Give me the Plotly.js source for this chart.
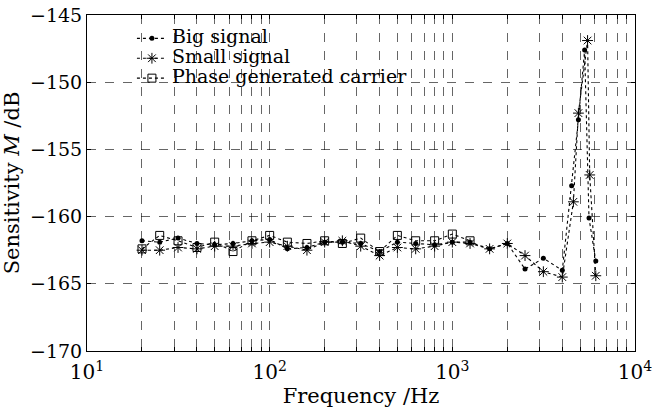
<!DOCTYPE html>
<html>
<head>
<meta charset="utf-8">
<script src="https://cdn.plot.ly/plotly-3.0.1.min.js"></script>
<style>html,body{margin:0;padding:0;background:#fff;}#chart{width:652px;height:408px;}</style>
</head>
<body>
<div id="chart"></div>
<script>
// 1/3-octave band frequencies (Hz)
const freqPGC = [20,25,31.5,40,50,63,80,100,125,160,200,250,315,400,500,630,800,1000,1250];
const pgcValues = [-162.4,-161.4,-161.8,-162.3,-161.9,-162.6,-161.8,-161.4,-161.9,-162.0,-161.8,-162.0,-161.6,-162.6,-161.4,-161.8,-161.8,-161.3,-161.8];

const freqBig = [20,25,31.5,40,50,63,80,100,125,160,200,250,315,400,500,630,800,1000,1250,1600,2000,2500,3150,4000,4500,4900,5300,5600,6100];
const bigValues = [-161.8,-161.9,-161.6,-162.0,-162.1,-162.0,-161.8,-161.7,-162.4,-162.3,-161.9,-161.9,-162.0,-162.6,-161.9,-162.0,-162.1,-161.9,-161.9,-162.4,-162.0,-163.9,-163.1,-164.0,-157.7,-152.8,-147.6,-160.1,-163.3];

const freqSmall = [20,25,31.5,40,50,63,80,100,125,160,200,250,315,400,500,630,800,1000,1250,1600,2000,2500,3150,4000,4600,4900,5500,5650,6100];
const smallValues = [-162.5,-162.5,-162.3,-162.4,-162.2,-162.2,-162.0,-161.9,-162.2,-162.5,-161.9,-161.8,-162.2,-162.9,-162.3,-162.4,-162.2,-161.9,-162.0,-162.4,-162.0,-162.9,-164.1,-164.5,-158.9,-152.3,-146.9,-156.9,-164.4];

const seriesNames = ["Big signal","Small signal","Phase generated carrier"];
const yTicks = [-170,-165,-160,-155,-150,-145];
const decades = [10,100,1000,10000];
const decadeLabels = ["10<sup>1</sup>","10<sup>2</sup>","10<sup>3</sup>","10<sup>4</sup>"];

// grid positions at every 1..9 x decade
const xTickVals = [], xTickText = [];
for (let d = 0; d < 3; d++) {
  for (let m = 1; m <= 9; m++) {
    xTickVals.push(decades[d] * m);
    xTickText.push(m === 1 ? decadeLabels[d] : "");
  }
}
xTickVals.push(decades[3]); xTickText.push(decadeLabels[3]);

const font = "DejaVu Serif, serif";
const lineStyle = {color:"black", width:1.1, dash:"dot"};
const legendName = s => '<span style="font-size:19px">' + s + '</span>';

const traces = [
  {x:freqBig, y:bigValues, name:legendName(seriesNames[0]), mode:"lines+markers", type:"scatter",
   line:lineStyle, marker:{symbol:"circle", size:5, color:"black"}},
  {x:freqSmall, y:smallValues, name:legendName(seriesNames[1]), mode:"lines+markers", type:"scatter",
   line:lineStyle, marker:{symbol:"asterisk-open", size:9, color:"black", line:{color:"black", width:1}}},
  {x:freqPGC, y:pgcValues, name:legendName(seriesNames[2]), mode:"lines+markers", type:"scatter",
   line:lineStyle, marker:{symbol:"square-open", size:8, color:"black", line:{color:"black", width:1}}}
];

const layout = {
  width:652, height:408,
  margin:{l:87, r:17, t:15, b:57},
  paper_bgcolor:"white", plot_bgcolor:"white",
  font:{family:font, size:20, color:"black"},
  showlegend:true,
  legend:{x:0.082, y:0.975, xanchor:"left", yanchor:"top", bgcolor:"rgba(255,255,255,0)",
          font:{family:font, size:13}, tracegroupgap:0, itemwidth:30},
  xaxis:{type:"log", range:[1,4], tickmode:"array", tickvals:xTickVals, ticktext:xTickText,
         ticklabeloverflow:"allow", ticklabelstandoff:3,
         showgrid:true, gridcolor:"black", griddash:"dash", gridwidth:0.6,
         showline:true, linecolor:"black", linewidth:1, mirror:"ticks",
         ticks:"inside", ticklen:4, tickcolor:"black", zeroline:false,
         tickfont:{family:font, size:20},
         title:{text:"Frequency /Hz", font:{family:font, size:21}, standoff:0}},
  yaxis:{range:[-170,-145], tickmode:"array", tickvals:yTicks,
         showgrid:true, gridcolor:"black", griddash:"dash", gridwidth:0.6,
         showline:true, linecolor:"black", linewidth:1, mirror:"ticks",
         ticks:"inside", ticklen:4, tickcolor:"black", zeroline:false,
         tickfont:{family:font, size:19},
         title:{text:"Sensitivity <i>M</i> /dB", font:{family:font, size:21}, standoff:8}}
};

Plotly.newPlot("chart", traces, layout, {displayModeBar:false, staticPlot:true});
</script>
</body>
</html>
